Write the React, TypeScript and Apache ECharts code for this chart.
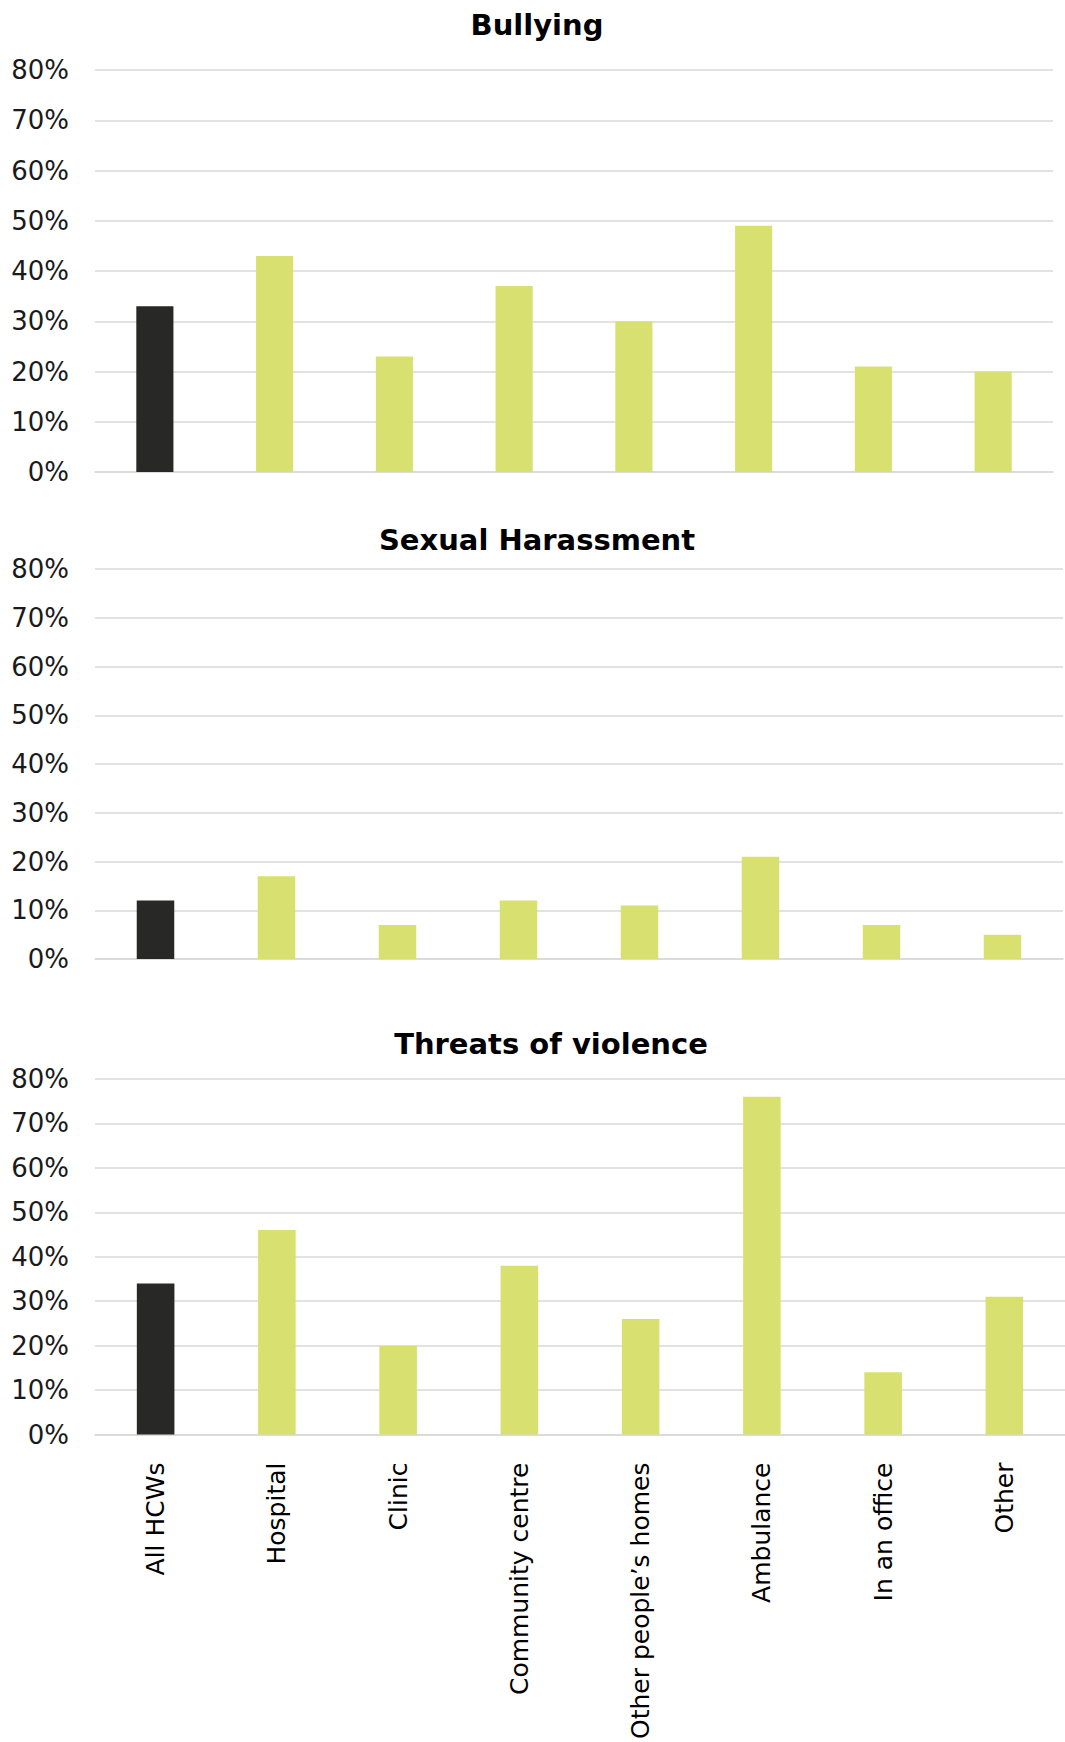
import React, { useEffect, useRef } from "react";
import * as echarts from "echarts";

const categories = [
  "All HCWs",
  "Hospital",
  "Clinic",
  "Community centre",
  "Other people’s homes",
  "Ambulance",
  "In an office",
  "Other",
];

const titles = ["Bullying", "Sexual Harassment", "Threats of violence"];

const bullying = [33, 43, 23, 37, 30, 49, 21, 20];
const sexualHarassment = [12, 17, 7, 12, 11, 21, 7, 5];
const threatsOfViolence = [34, 46, 20, 38, 26, 76, 14, 31];

const yTicks = { min: 0, max: 80, interval: 10 };

const FONT = "'DejaVu Sans', Verdana, sans-serif";
const GREEN = "#D8E16F";
const BLACK = "#282826";
const GRID_COLOR = "#D9D9D9";

const seriesData = [bullying, sexualHarassment, threatsOfViolence];

export default function App() {
  const ref = useRef<HTMLDivElement>(null);

  useEffect(() => {
    document.body.style.margin = "0";
    if (!ref.current) return;
    const chart = echarts.init(ref.current, null, { renderer: "svg" });

    const grids = [
      { left: 95, top: 70, width: 958, height: 402 },
      { left: 95, top: 569, width: 968, height: 390 },
      { left: 95, top: 1079, width: 986, height: 356 },
    ];
    const titleCenters = [532, 532, 546];
    const titleTops = [5, 520, 1024];

    const option: any = {
      animation: false,
      backgroundColor: "#ffffff",
      title: titles.map((t, i) => ({
        text: t,
        left: titleCenters[i],
        top: titleTops[i],
        textAlign: "center",
        textStyle: {
          fontFamily: FONT,
          fontSize: 29,
          fontWeight: "bold",
          color: "#000000",
        },
      })),
      grid: grids.map((g) => ({ ...g, containLabel: false })),
      xAxis: grids.map((_, i) => ({
        type: "category",
        gridIndex: i,
        data: categories,
        axisLine: { show: true, lineStyle: { color: GRID_COLOR, width: 1.5 } },
        axisTick: { show: false },
        axisLabel:
          i === 2
            ? {
                show: true,
                rotate: 90,
                interval: 0,
                margin: 28,
                fontFamily: FONT,
                fontSize: 25,
                color: "#000000",
              }
            : { show: false },
      })),
      yAxis: grids.map((_, i) => ({
        type: "value",
        gridIndex: i,
        min: yTicks.min,
        max: yTicks.max,
        interval: yTicks.interval,
        axisLine: { show: false },
        axisTick: { show: false },
        splitLine: { show: true, lineStyle: { color: GRID_COLOR, width: 1.5 } },
        axisLabel: {
          formatter: "{value}%",
          margin: 26,
          fontFamily: FONT,
          fontSize: 26,
          color: "#1a1a1a",
        },
      })),
      series: seriesData.map((d, i) => ({
        type: "bar",
        xAxisIndex: i,
        yAxisIndex: i,
        barWidth: "31%",
        data: d.map((v, j) => ({
          value: v,
          itemStyle: { color: j === 0 ? BLACK : GREEN },
        })),
      })),
    };

    chart.setOption(option);
    return () => chart.dispose();
  }, []);

  return <div ref={ref} style={{ width: 1065, height: 1742 }} />;
}
